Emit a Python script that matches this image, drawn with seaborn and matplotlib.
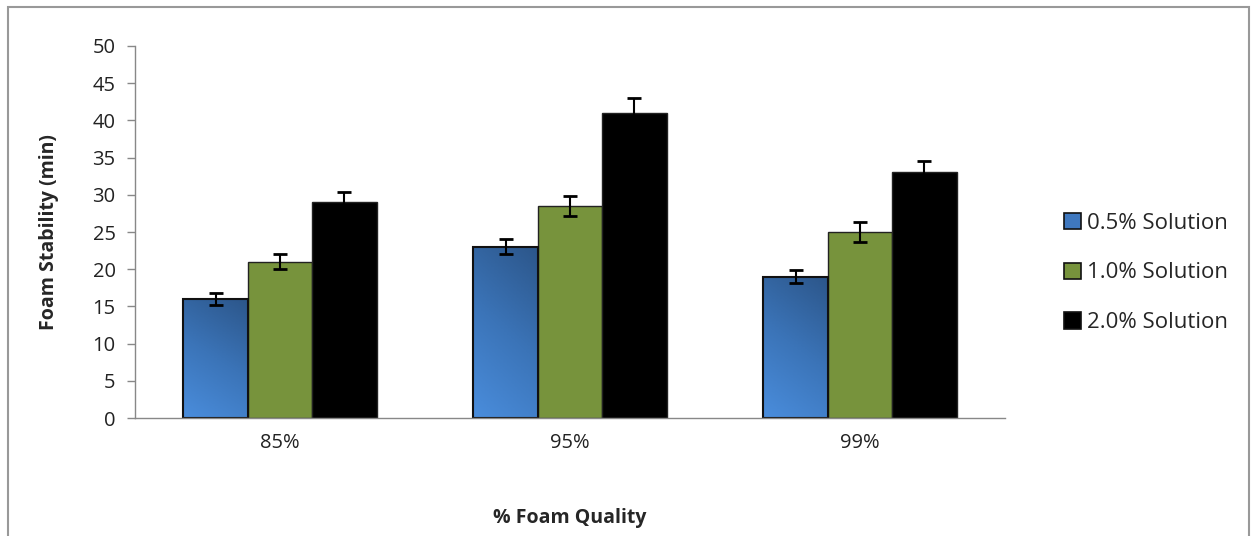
import numpy as np
import pandas as pd
import matplotlib
matplotlib.use("Agg")
import matplotlib.pyplot as plt
import seaborn as sns
from matplotlib.colors import LinearSegmentedColormap
from matplotlib.patches import Rectangle

categories = ["85%", "95%", "99%"]
series = ["0.5% Solution", "1.0% Solution", "2.0% Solution"]
vals_05 = [16, 23, 19]
vals_10 = [21, 28.5, 25]
vals_20 = [29, 41, 33]
err_05 = [0.8, 1.0, 0.9]
err_10 = [1.0, 1.4, 1.3]
err_20 = [1.4, 2.0, 1.5]

sns.set_style("white")
plt.rcParams['font.family'] = ['Open Sans', 'DejaVu Sans']

rows = []
for s, v, e in zip(series, [vals_05, vals_10, vals_20], [err_05, err_10, err_20]):
    for c, vv, ee in zip(categories, v, e):
        rows.append({"cat": c, "series": s, "val": vv, "err": ee})
df = pd.DataFrame(rows)

colors = ["#3f78bf", "#77933c", "#000000"]
fig = plt.figure(figsize=(12.57, 5.36), dpi=100)
ax = fig.add_axes([0.1074, 0.2201, 0.6921, 0.6941])
sns.barplot(data=df, x="cat", y="val", hue="series", order=categories,
            hue_order=series, palette=colors, errorbar=None, width=0.667,
            edgecolor="#222222", linewidth=1.0, ax=ax, legend=True, saturation=1)

# gradient on blue bars: light at bottom, darkest at top-right
cmap = LinearSegmentedColormap.from_list("bl", ["#4a8ddc", "#3b74b8", "#2c568a"])
ii, jj = np.meshgrid(np.arange(50), np.arange(50))
for p in ax.containers[0].patches:
    x0, y0 = p.get_x(), p.get_y()
    w, h = p.get_width(), p.get_height()
    im = ax.imshow(jj + ii * 0.35, cmap=cmap, extent=[x0, x0 + w, y0, y0 + h],
                   aspect="auto", origin="lower", zorder=p.get_zorder() + 0.1)
    im.set_clip_path(p)
    r = Rectangle((x0, y0), w, h, fill=False, edgecolor="#111111", linewidth=1.5,
                  zorder=p.get_zorder() + 0.2)
    ax.add_patch(r)

for cont, errs in zip(ax.containers, [err_05, err_10, err_20]):
    for p, e in zip(cont.patches, errs):
        ax.errorbar(p.get_x() + p.get_width() / 2, p.get_height(), yerr=e,
                    fmt="none", ecolor="black", elinewidth=1.5, capsize=5,
                    capthick=2, zorder=5)

ax.set_xlim(-0.5, 2.5)
ax.set_ylim(0, 50)
ax.set_yticks(range(0, 51, 5))
ax.tick_params(axis="y", which="both", left=True, length=6, width=1,
               color="#888888", labelsize=14.5, pad=8, labelcolor="#222222")
ax.tick_params(axis="x", bottom=False, labelsize=14.5, pad=7, labelcolor="#222222")
for s in ["top", "right"]:
    ax.spines[s].set_visible(False)
for s in ["left", "bottom"]:
    ax.spines[s].set_color("#888888")
    ax.spines[s].set_linewidth(1)
ax.set_xlabel("% Foam Quality", fontsize=14, fontweight="bold", labelpad=40)
ax.set_ylabel("Foam Stability (min)", fontsize=14, fontweight="bold", labelpad=24)

leg = ax.legend(loc="center left", bbox_to_anchor=(1.045, 0.39), frameon=False,
                fontsize=16, handlelength=0.75, handleheight=0.75,
                labelspacing=1.3, handletextpad=0.3)
for h in leg.legend_handles:
    h.set_edgecolor("#111111")
    h.set_linewidth(1.2)

fig.patches.append(Rectangle((0.006, -0.01), 0.988, 0.997, transform=fig.transFigure,
                             fill=False, edgecolor="#999999", linewidth=1.5))
fig.savefig("out.png", dpi=100)
